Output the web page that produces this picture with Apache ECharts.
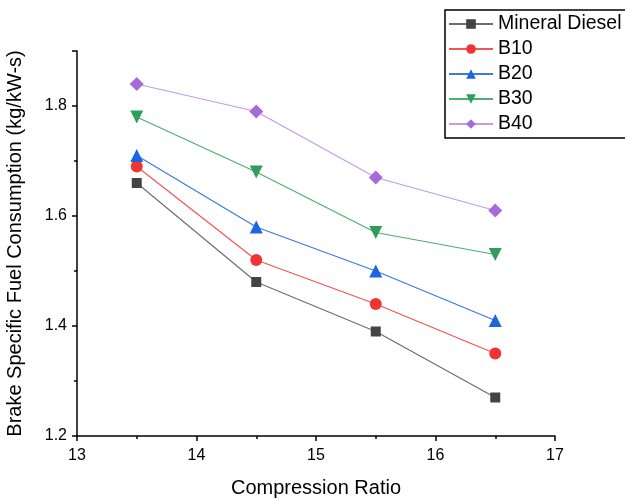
<!DOCTYPE html>
<html>
<head>
<meta charset="utf-8">
<script src="https://cdn.jsdelivr.net/npm/echarts@6/dist/echarts.min.js"></script>
<style>
    html, body { margin: 0; padding: 0; background: #fff; }
    #chart { width: 625px; height: 499px; }
</style>
</head>
<body>
<div id="chart"></div>
<script>
// data
const ratios = [13.5, 14.5, 15.5, 16.5];
const seriesNames = ['Mineral Diesel', 'B10', 'B20', 'B30', 'B40'];
const diesel = [1.66, 1.48, 1.39, 1.27];
const b10 = [1.69, 1.52, 1.44, 1.35];
const b20 = [1.71, 1.58, 1.50, 1.41];
const b30 = [1.78, 1.68, 1.57, 1.53];
const b40 = [1.84, 1.79, 1.67, 1.61];
const yTicks = [1.2, 1.4, 1.6, 1.8];

const allValues = [diesel, b10, b20, b30, b40];
// marker colour, line colour, symbol, size
const looks = [
    ['#444444', '#6e6e6e', 'rect', 10],
    ['#f03434', '#f25555', 'circle', 12],
    ['#1a66e0', '#3a7be0', 'triangle', 13],
    ['#2f9e5a', '#4cb070', 'path://M0,0 L10,0 L5,9 Z', 13],
    ['#a86ad8', '#c49be6', 'diamond', 14]
];

const chart = echarts.init(document.getElementById('chart'));

const series = seriesNames.map((name, i) => ({
    name: name,
    type: 'line',
    data: ratios.map((x, j) => [x, allValues[i][j]]),
    symbol: looks[i][2],
    symbolSize: looks[i][3],
    showSymbol: true,
    itemStyle: { color: looks[i][0] },
    lineStyle: { color: looks[i][1], width: 1.2 },
    emphasis: { disabled: true },
    z: 2 + i
}));

chart.setOption({
    animation: false,
    textStyle: { fontFamily: 'Liberation Sans, Arial, sans-serif' },
    grid: { left: 77, right: 70, top: 51, bottom: 63, outerBoundsMode: 'none' },
    legend: {
        orient: 'vertical',
        left: 445,
        top: 10,
        itemWidth: 44,
        itemHeight: 12,
        itemGap: 5,
        padding: [4, 30, 4, 3],
        borderColor: '#000',
        borderWidth: 1.5,
        textStyle: { fontSize: 19.5, lineHeight: 20, color: '#000' },
        data: seriesNames
    },
    xAxis: {
        type: 'value',
        min: 13,
        max: 17,
        interval: 1,
        name: 'Compression Ratio',
        nameLocation: 'middle',
        nameGap: 42,
        nameTextStyle: { fontSize: 20, color: '#000' },
        axisLine: { show: true, onZero: false, lineStyle: { color: '#000', width: 1.5 } },
        axisTick: { show: true, inside: false, length: 5, lineStyle: { color: '#000', width: 1.5 } },
        minorTick: { show: true, splitNumber: 2, length: 3, lineStyle: { color: '#000', width: 1.5 } },
        splitLine: { show: false },
        axisLabel: { fontSize: 16, color: '#000', margin: 12 }
    },
    yAxis: {
        type: 'value',
        min: 1.2,
        max: 1.9,
        interval: 0.2,
        name: 'Brake Specific Fuel Consumption (kg/kW-s)',
        nameLocation: 'middle',
        nameGap: 52,
        nameTextStyle: { fontSize: 20, color: '#000' },
        axisLine: { show: true, onZero: false, lineStyle: { color: '#000', width: 1.5 } },
        axisTick: { show: true, inside: false, length: 5, lineStyle: { color: '#000', width: 1.5 } },
        minorTick: { show: true, splitNumber: 2, length: 3, lineStyle: { color: '#000', width: 1.5 } },
        splitLine: { show: false },
        axisLabel: {
            fontSize: 16,
            color: '#000',
            margin: 10,
            showMaxLabel: false,
            formatter: v => yTicks.some(t => Math.abs(t - v) < 1e-6) ? v.toFixed(1) : ''
        }
    },
    series: series
});
</script>
</body>
</html>
